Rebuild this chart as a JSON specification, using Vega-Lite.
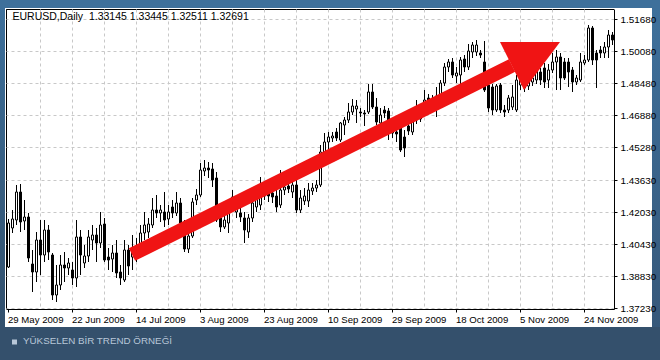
{
  "$schema": "https://vega.github.io/schema/vega-lite/v6.json",
  "width": 608,
  "height": 300,
  "autosize": "none",
  "padding": {"left": 6, "top": 9, "right": 46, "bottom": 51},
  "background": "#34506c",
  "config": {"view": {"fill": "#ffffff", "stroke": "#000000", "strokeWidth": 1}, "font": "Liberation Sans"},
  "datasets": {
    "ohlc": [
      {"d":"2009-05-29","o":1.3928,"h":1.4168,"l":1.3923,"c":1.4148},
      {"d":"2009-06-01","o":1.4123,"h":1.4213,"l":1.4098,"c":1.4168},
      {"d":"2009-06-02","o":1.4163,"h":1.4338,"l":1.4138,"c":1.4303},
      {"d":"2009-06-03","o":1.4303,"h":1.4343,"l":1.4103,"c":1.4153},
      {"d":"2009-06-04","o":1.4158,"h":1.4263,"l":1.4113,"c":1.4178},
      {"d":"2009-06-05","o":1.4178,"h":1.4198,"l":1.3953,"c":1.3973},
      {"d":"2009-06-08","o":1.3943,"h":1.4013,"l":1.3803,"c":1.3903},
      {"d":"2009-06-09","o":1.3903,"h":1.4103,"l":1.3853,"c":1.4063},
      {"d":"2009-06-10","o":1.4063,"h":1.4163,"l":1.3888,"c":1.3988},
      {"d":"2009-06-11","o":1.3988,"h":1.4163,"l":1.3953,"c":1.4113},
      {"d":"2009-06-12","o":1.4113,"h":1.4138,"l":1.3963,"c":1.4003},
      {"d":"2009-06-15","o":1.3988,"h":1.3998,"l":1.3763,"c":1.3788},
      {"d":"2009-06-16","o":1.3788,"h":1.3938,"l":1.3753,"c":1.3838},
      {"d":"2009-06-17","o":1.3838,"h":1.3988,"l":1.3813,"c":1.3938},
      {"d":"2009-06-18","o":1.3938,"h":1.4003,"l":1.3853,"c":1.3923},
      {"d":"2009-06-19","o":1.3923,"h":1.3973,"l":1.3888,"c":1.3948},
      {"d":"2009-06-22","o":1.3913,"h":1.3953,"l":1.3838,"c":1.3873},
      {"d":"2009-06-23","o":1.3873,"h":1.4163,"l":1.3828,"c":1.4078},
      {"d":"2009-06-24","o":1.4078,"h":1.4113,"l":1.3888,"c":1.3988},
      {"d":"2009-06-25","o":1.3948,"h":1.4038,"l":1.3923,"c":1.3983},
      {"d":"2009-06-26","o":1.3983,"h":1.4113,"l":1.3953,"c":1.4078},
      {"d":"2009-06-29","o":1.4063,"h":1.4138,"l":1.4013,"c":1.4088},
      {"d":"2009-06-30","o":1.4088,"h":1.4123,"l":1.3953,"c":1.4048},
      {"d":"2009-07-01","o":1.4048,"h":1.4203,"l":1.4023,"c":1.4138},
      {"d":"2009-07-02","o":1.4143,"h":1.4173,"l":1.3953,"c":1.3963},
      {"d":"2009-07-03","o":1.3978,"h":1.4023,"l":1.3913,"c":1.3963},
      {"d":"2009-07-06","o":1.3968,"h":1.4038,"l":1.3903,"c":1.3998},
      {"d":"2009-07-07","o":1.3998,"h":1.4063,"l":1.3873,"c":1.3898},
      {"d":"2009-07-08","o":1.3903,"h":1.3938,"l":1.3838,"c":1.3873},
      {"d":"2009-07-09","o":1.3863,"h":1.4063,"l":1.3853,"c":1.4013},
      {"d":"2009-07-10","o":1.4013,"h":1.4038,"l":1.3888,"c":1.3933},
      {"d":"2009-07-13","o":1.3978,"h":1.4088,"l":1.3913,"c":1.4003},
      {"d":"2009-07-14","o":1.4003,"h":1.4073,"l":1.3953,"c":1.4033},
      {"d":"2009-07-15","o":1.4023,"h":1.4138,"l":1.3973,"c":1.4098},
      {"d":"2009-07-16","o":1.4098,"h":1.4203,"l":1.4063,"c":1.4138},
      {"d":"2009-07-17","o":1.4103,"h":1.4173,"l":1.4073,"c":1.4143},
      {"d":"2009-07-20","o":1.4138,"h":1.4273,"l":1.4123,"c":1.4213},
      {"d":"2009-07-21","o":1.4213,"h":1.4288,"l":1.4173,"c":1.4198},
      {"d":"2009-07-22","o":1.4198,"h":1.4238,"l":1.4153,"c":1.4213},
      {"d":"2009-07-23","o":1.4203,"h":1.4303,"l":1.4128,"c":1.4163},
      {"d":"2009-07-24","o":1.4168,"h":1.4238,"l":1.4138,"c":1.4203},
      {"d":"2009-07-26","o":1.4228,"h":1.4263,"l":1.4173,"c":1.4198},
      {"d":"2009-07-27","o":1.4198,"h":1.4303,"l":1.4183,"c":1.4248},
      {"d":"2009-07-28","o":1.4248,"h":1.4273,"l":1.4133,"c":1.4148},
      {"d":"2009-07-29","o":1.4148,"h":1.4163,"l":1.4003,"c":1.4018},
      {"d":"2009-07-30","o":1.4018,"h":1.4113,"l":1.3998,"c":1.4083},
      {"d":"2009-07-31","o":1.4083,"h":1.4273,"l":1.4073,"c":1.4253},
      {"d":"2009-08-02","o":1.4263,"h":1.4318,"l":1.4238,"c":1.4288},
      {"d":"2009-08-03","o":1.4288,"h":1.4448,"l":1.4278,"c":1.4413},
      {"d":"2009-08-04","o":1.4408,"h":1.4463,"l":1.4383,"c":1.4423},
      {"d":"2009-08-05","o":1.4423,"h":1.4453,"l":1.4373,"c":1.4413},
      {"d":"2009-08-06","o":1.4418,"h":1.4448,"l":1.4328,"c":1.4363},
      {"d":"2009-08-07","o":1.4373,"h":1.4403,"l":1.4153,"c":1.4163},
      {"d":"2009-08-10","o":1.4173,"h":1.4203,"l":1.4103,"c":1.4128},
      {"d":"2009-08-11","o":1.4128,"h":1.4193,"l":1.4118,"c":1.4163},
      {"d":"2009-08-12","o":1.4148,"h":1.4263,"l":1.4098,"c":1.4238},
      {"d":"2009-08-13","o":1.4253,"h":1.4313,"l":1.4213,"c":1.4278},
      {"d":"2009-08-14","o":1.4203,"h":1.4273,"l":1.4173,"c":1.4238},
      {"d":"2009-08-16","o":1.4198,"h":1.4233,"l":1.4153,"c":1.4178},
      {"d":"2009-08-17","o":1.4173,"h":1.4203,"l":1.4048,"c":1.4113},
      {"d":"2009-08-18","o":1.4103,"h":1.4193,"l":1.4073,"c":1.4173},
      {"d":"2009-08-19","o":1.4173,"h":1.4273,"l":1.4153,"c":1.4248},
      {"d":"2009-08-20","o":1.4228,"h":1.4323,"l":1.4203,"c":1.4273},
      {"d":"2009-08-21","o":1.4238,"h":1.4378,"l":1.4213,"c":1.4298},
      {"d":"2009-08-23","o":1.4313,"h":1.4353,"l":1.4263,"c":1.4283},
      {"d":"2009-08-24","o":1.4303,"h":1.4338,"l":1.4253,"c":1.4283},
      {"d":"2009-08-25","o":1.4298,"h":1.4333,"l":1.4248,"c":1.4278},
      {"d":"2009-08-26","o":1.4283,"h":1.4313,"l":1.4203,"c":1.4228},
      {"d":"2009-08-27","o":1.4238,"h":1.4413,"l":1.4223,"c":1.4313},
      {"d":"2009-08-28","o":1.4313,"h":1.4363,"l":1.4288,"c":1.4328},
      {"d":"2009-08-30","o":1.4333,"h":1.4363,"l":1.4298,"c":1.4318},
      {"d":"2009-08-31","o":1.4303,"h":1.4373,"l":1.4273,"c":1.4338},
      {"d":"2009-09-01","o":1.4338,"h":1.4363,"l":1.4198,"c":1.4213},
      {"d":"2009-09-02","o":1.4213,"h":1.4313,"l":1.4198,"c":1.4273},
      {"d":"2009-09-03","o":1.4258,"h":1.4323,"l":1.4238,"c":1.4283},
      {"d":"2009-09-04","o":1.4258,"h":1.4348,"l":1.4228,"c":1.4313},
      {"d":"2009-09-06","o":1.4308,"h":1.4348,"l":1.4288,"c":1.4323},
      {"d":"2009-09-07","o":1.4323,"h":1.4363,"l":1.4303,"c":1.4338},
      {"d":"2009-09-08","o":1.4338,"h":1.4538,"l":1.4328,"c":1.4503},
      {"d":"2009-09-09","o":1.4498,"h":1.4598,"l":1.4478,"c":1.4553},
      {"d":"2009-09-10","o":1.4553,"h":1.4603,"l":1.4498,"c":1.4578},
      {"d":"2009-09-11","o":1.4573,"h":1.4603,"l":1.4553,"c":1.4583},
      {"d":"2009-09-13","o":1.4603,"h":1.4623,"l":1.4558,"c":1.4573},
      {"d":"2009-09-14","o":1.4563,"h":1.4653,"l":1.4553,"c":1.4648},
      {"d":"2009-09-15","o":1.4638,"h":1.4678,"l":1.4588,"c":1.4663},
      {"d":"2009-09-16","o":1.4663,"h":1.4748,"l":1.4648,"c":1.4703},
      {"d":"2009-09-17","o":1.4703,"h":1.4768,"l":1.4688,"c":1.4733},
      {"d":"2009-09-18","o":1.4718,"h":1.4763,"l":1.4648,"c":1.4733},
      {"d":"2009-09-20","o":1.4703,"h":1.4723,"l":1.4678,"c":1.4698},
      {"d":"2009-09-21","o":1.4698,"h":1.4713,"l":1.4633,"c":1.4693},
      {"d":"2009-09-22","o":1.4703,"h":1.4843,"l":1.4693,"c":1.4803},
      {"d":"2009-09-23","o":1.4803,"h":1.4843,"l":1.4718,"c":1.4728},
      {"d":"2009-09-24","o":1.4728,"h":1.4773,"l":1.4638,"c":1.4653},
      {"d":"2009-09-25","o":1.4648,"h":1.4723,"l":1.4628,"c":1.4688},
      {"d":"2009-09-27","o":1.4713,"h":1.4733,"l":1.4673,"c":1.4698},
      {"d":"2009-09-28","o":1.4708,"h":1.4723,"l":1.4563,"c":1.4623},
      {"d":"2009-09-29","o":1.4598,"h":1.4653,"l":1.4573,"c":1.4623},
      {"d":"2009-09-30","o":1.4603,"h":1.4638,"l":1.4553,"c":1.4593},
      {"d":"2009-10-01","o":1.4623,"h":1.4628,"l":1.4503,"c":1.4513},
      {"d":"2009-10-02","o":1.4578,"h":1.4613,"l":1.4478,"c":1.4523},
      {"d":"2009-10-04","o":1.4633,"h":1.4663,"l":1.4588,"c":1.4608},
      {"d":"2009-10-05","o":1.4603,"h":1.4683,"l":1.4588,"c":1.4663},
      {"d":"2009-10-06","o":1.4663,"h":1.4763,"l":1.4643,"c":1.4678},
      {"d":"2009-10-07","o":1.4668,"h":1.4723,"l":1.4653,"c":1.4683},
      {"d":"2009-10-08","o":1.4703,"h":1.4813,"l":1.4688,"c":1.4763},
      {"d":"2009-10-09","o":1.4773,"h":1.4793,"l":1.4698,"c":1.4713},
      {"d":"2009-10-11","o":1.4748,"h":1.4788,"l":1.4723,"c":1.4768},
      {"d":"2009-10-12","o":1.4763,"h":1.4828,"l":1.4678,"c":1.4783},
      {"d":"2009-10-13","o":1.4783,"h":1.4863,"l":1.4768,"c":1.4848},
      {"d":"2009-10-14","o":1.4848,"h":1.4948,"l":1.4833,"c":1.4928},
      {"d":"2009-10-15","o":1.4928,"h":1.4968,"l":1.4903,"c":1.4953},
      {"d":"2009-10-16","o":1.4953,"h":1.4973,"l":1.4873,"c":1.4888},
      {"d":"2009-10-18","o":1.4883,"h":1.4928,"l":1.4848,"c":1.4898},
      {"d":"2009-10-19","o":1.4888,"h":1.4978,"l":1.4838,"c":1.4963},
      {"d":"2009-10-20","o":1.4968,"h":1.4988,"l":1.4903,"c":1.4928},
      {"d":"2009-10-21","o":1.4928,"h":1.5043,"l":1.4913,"c":1.5008},
      {"d":"2009-10-22","o":1.5003,"h":1.5053,"l":1.4973,"c":1.5038},
      {"d":"2009-10-23","o":1.5003,"h":1.5063,"l":1.4983,"c":1.5038},
      {"d":"2009-10-25","o":1.4998,"h":1.5013,"l":1.4973,"c":1.4988},
      {"d":"2009-10-26","o":1.4953,"h":1.5058,"l":1.4803,"c":1.4813},
      {"d":"2009-10-27","o":1.4838,"h":1.4853,"l":1.4703,"c":1.4723},
      {"d":"2009-10-28","o":1.4828,"h":1.4843,"l":1.4688,"c":1.4713},
      {"d":"2009-10-29","o":1.4713,"h":1.4843,"l":1.4703,"c":1.4833},
      {"d":"2009-10-30","o":1.4838,"h":1.4848,"l":1.4698,"c":1.4713},
      {"d":"2009-11-01","o":1.4713,"h":1.4738,"l":1.4678,"c":1.4703},
      {"d":"2009-11-02","o":1.4713,"h":1.4788,"l":1.4698,"c":1.4773},
      {"d":"2009-11-03","o":1.4728,"h":1.4838,"l":1.4713,"c":1.4778},
      {"d":"2009-11-04","o":1.4713,"h":1.4888,"l":1.4703,"c":1.4863},
      {"d":"2009-11-05","o":1.4838,"h":1.4903,"l":1.4813,"c":1.4873},
      {"d":"2009-11-06","o":1.4873,"h":1.4893,"l":1.4803,"c":1.4823},
      {"d":"2009-11-08","o":1.4833,"h":1.4883,"l":1.4813,"c":1.4863},
      {"d":"2009-11-09","o":1.4853,"h":1.4888,"l":1.4833,"c":1.4873},
      {"d":"2009-11-10","o":1.4863,"h":1.4938,"l":1.4843,"c":1.4913},
      {"d":"2009-11-11","o":1.4903,"h":1.4923,"l":1.4838,"c":1.4863},
      {"d":"2009-11-12","o":1.4923,"h":1.4948,"l":1.4823,"c":1.4853},
      {"d":"2009-11-13","o":1.4863,"h":1.4943,"l":1.4823,"c":1.4913},
      {"d":"2009-11-15","o":1.4913,"h":1.4998,"l":1.4898,"c":1.4953},
      {"d":"2009-11-16","o":1.4953,"h":1.5013,"l":1.4813,"c":1.4978},
      {"d":"2009-11-17","o":1.4978,"h":1.4998,"l":1.4813,"c":1.4873},
      {"d":"2009-11-18","o":1.4953,"h":1.4973,"l":1.4863,"c":1.4873},
      {"d":"2009-11-19","o":1.4953,"h":1.4973,"l":1.4828,"c":1.4903},
      {"d":"2009-11-20","o":1.4913,"h":1.4928,"l":1.4803,"c":1.4853},
      {"d":"2009-11-22","o":1.4853,"h":1.4888,"l":1.4838,"c":1.4873},
      {"d":"2009-11-23","o":1.4863,"h":1.4998,"l":1.4853,"c":1.4953},
      {"d":"2009-11-24","o":1.4948,"h":1.4988,"l":1.4938,"c":1.4963},
      {"d":"2009-11-25","o":1.4963,"h":1.5138,"l":1.4953,"c":1.5123},
      {"d":"2009-11-26","o":1.5123,"h":1.5133,"l":1.4938,"c":1.4963},
      {"d":"2009-11-27","o":1.4998,"h":1.5013,"l":1.4823,"c":1.4963},
      {"d":"2009-11-29","o":1.5013,"h":1.5033,"l":1.4973,"c":1.4998},
      {"d":"2009-11-30","o":1.4998,"h":1.5053,"l":1.4973,"c":1.5028},
      {"d":"2009-12-01","o":1.5028,"h":1.5113,"l":1.4973,"c":1.5088},
      {"d":"2009-12-02","o":1.5088,"h":1.5103,"l":1.5038,"c":1.5063}
    ],
    "arrow": [
      {"d":"2009-07-13","p":1.399},
      {"d":"2009-11-03","p":1.4935}
    ],
    "head": [
      {"d":"2009-10-30","p":1.5053,"p2":1.5053},
      {"d":"2009-11-06","p":1.5053,"p2":1.4813},
      {"d":"2009-11-17","p":1.5053,"p2":1.5053}
    ]
  },
  "layer": [
    {
      "data": {"values": [{}]},
      "layer": [
        {
          "mark": {"type": "rect", "fill": "#3e709b"},
          "encoding": {
            "x": {"datum": -0.009868, "type": "quantitative", "scale": {"domain": [0, 1], "nice": false, "zero": false}, "axis": null},
            "x2": {"datum": 1.075658},
            "y": {"datum": 1.03, "type": "quantitative", "scale": {"domain": [0, 1], "nice": false, "zero": false}, "axis": null},
            "y2": {"datum": 1.003333}
          }
        },
        {
          "mark": {"type": "rect", "fill": {"gradient": "linear", "x1": 0, "y1": 0, "x2": 0, "y2": 1, "stops": [{"offset": 0, "color": "#3e709b"}, {"offset": 1, "color": "#33506c"}]}},
          "encoding": {
            "x": {"datum": -0.009868, "type": "quantitative"},
            "x2": {"datum": -0.001645},
            "y": {"datum": 1.003333, "type": "quantitative"},
            "y2": {"datum": -0.06}
          }
        },
        {
          "mark": {"type": "rect", "fill": {"gradient": "linear", "x1": 0, "y1": 0, "x2": 0, "y2": 1, "stops": [{"offset": 0, "color": "#3e709b"}, {"offset": 1, "color": "#36587a"}]}},
          "encoding": {
            "x": {"datum": 1.0625, "type": "quantitative"},
            "x2": {"datum": 1.075658},
            "y": {"datum": 1.003333, "type": "quantitative"},
            "y2": {"datum": -0.06}
          }
        },
        {
          "mark": {"type": "rect", "fill": "#ffffff"},
          "encoding": {
            "x": {"datum": 1.0, "type": "quantitative"},
            "x2": {"datum": 1.0625},
            "y": {"datum": 1.003333, "type": "quantitative"},
            "y2": {"datum": -0.06}
          }
        },
        {
          "mark": {"type": "rect", "fill": "#ffffff"},
          "encoding": {
            "x": {"datum": -0.001645, "type": "quantitative"},
            "x2": {"datum": 1.0},
            "y": {"datum": 0, "type": "quantitative"},
            "y2": {"datum": -0.06}
          }
        },
        {
          "mark": {"type": "rect", "fill": "#ffffff"},
          "encoding": {
            "x": {"datum": -0.001645, "type": "quantitative"},
            "x2": {"datum": 1.0625},
            "y": {"datum": 1.003333, "type": "quantitative"},
            "y2": {"datum": 1.0}
          }
        },
        {
          "mark": {"type": "rect", "fill": "#ffffff"},
          "encoding": {
            "x": {"datum": -0.001645, "type": "quantitative"},
            "x2": {"datum": 0},
            "y": {"datum": 1.003333, "type": "quantitative"},
            "y2": {"datum": -0.06}
          }
        },
        {
          "mark": {"type": "text", "text": "EURUSD,Daily\u00a0 1.33145 1.33445 1.32511 1.32691", "align": "left", "baseline": "middle", "fontSize": 10.5, "font": "Liberation Sans", "fill": "#000000"},
          "encoding": {
            "x": {"datum": 0.01069, "type": "quantitative"},
            "y": {"datum": 0.9723, "type": "quantitative"}
          }
        },
        {
          "mark": {"type": "rect", "fill": "#b8c7d8"},
          "encoding": {
            "x": {"datum": 0.00987, "type": "quantitative"},
            "x2": {"datum": 0.01809},
            "y": {"datum": -0.10167, "type": "quantitative"},
            "y2": {"datum": -0.11833}
          }
        },
        {
          "mark": {"type": "text", "text": "YÜKSELEN BİR TREND ÖRNEĞİ", "align": "left", "baseline": "middle", "fontSize": 9.8, "font": "Liberation Sans", "fill": "#b8c7d8"},
          "encoding": {
            "x": {"datum": 0.02796, "type": "quantitative"},
            "y": {"datum": -0.108, "type": "quantitative"}
          }
        }
      ]
    },
    {
      "data": {"name": "ohlc"},
      "layer": [
        {
          "mark": {"type": "rule", "color": "#000000", "strokeWidth": 1, "xOffset": 0.5},
          "encoding": {
            "x": {
              "field": "d", "type": "ordinal",
              "scale": {"type": "band", "paddingInner": 0, "paddingOuter": 0},
              "axis": {
                "orient": "bottom", "values": ["2009-06-10","2009-06-22","2009-07-02","2009-07-14","2009-07-24","2009-08-03","2009-08-13","2009-08-23","2009-09-01","2009-09-10","2009-09-20","2009-09-29","2009-10-08","2009-10-18","2009-10-27","2009-11-05","2009-11-15","2009-11-24"],
                "grid": true, "gridColor": "#c8c8c8", "gridDash": [3, 3], "gridWidth": 1,
                "labels": false, "ticks": false, "domain": false, "title": null, "zindex": 0, "bandPosition": 0.5
              }
            },
            "y": {
              "field": "l", "type": "quantitative",
              "scale": {"domain": [1.3718, 1.5218], "nice": false, "zero": false},
              "axis": {
                "orient": "right", "values": [1.3723, 1.3883, 1.4043, 1.4203, 1.4363, 1.4528, 1.4688, 1.4848, 1.5008, 1.5168],
                "grid": true, "gridColor": "#c8c8c8", "gridDash": [3, 3], "gridWidth": 1,
                "labels": false, "ticks": false, "domain": false, "title": null, "zindex": 0
              }
            },
            "y2": {"field": "h"}
          }
        },
        {
          "mark": {"type": "bar", "size": 2, "xOffset": 0.5, "stroke": "#000000", "strokeWidth": 1},
          "encoding": {
            "x": {
              "field": "d", "type": "ordinal",
              "axis": {
                "orient": "bottom", "values": ["2009-05-29","2009-06-22","2009-07-14","2009-08-03","2009-08-23","2009-09-10","2009-09-29","2009-10-18","2009-11-05","2009-11-24"],
                "labelExpr": "utcFormat(toDate(datum.value), '%-d %b %Y')",
                "labelAlign": "left", "labelAngle": 0, "labelFont": "Liberation Sans", "labelFontSize": 9.6, "labelColor": "#000000",
                "labelPadding": 2, "labelOverlap": false, "tickColor": "#000000", "tickSize": 3, "domainColor": "#000000",
                "grid": false, "title": null, "zindex": 1, "bandPosition": 0.5
              }
            },
            "y": {
              "field": "o", "type": "quantitative",
              "axis": {
                "orient": "right", "values": [1.3723, 1.3883, 1.4043, 1.4203, 1.4363, 1.4528, 1.4688, 1.4848, 1.5008, 1.5168],
                "format": ".5f", "labelFont": "Liberation Sans", "labelFontSize": 9.9, "labelColor": "#000000", "labelPadding": 3,
                "tickColor": "#000000", "tickSize": 3, "domainColor": "#000000", "grid": false, "title": null, "zindex": 1
              }
            },
            "y2": {"field": "c"},
            "color": {"condition": {"test": "datum.c > datum.o", "value": "#ffffff"}, "value": "#000000"}
          }
        },
        {
          "data": {"name": "arrow"},
          "mark": {"type": "line", "color": "#f01414", "strokeWidth": 14, "strokeCap": "butt"},
          "encoding": {
            "x": {"field": "d", "type": "ordinal", "axis": null},
            "y": {"field": "p", "type": "quantitative", "axis": null}
          }
        },
        {
          "data": {"name": "head"},
          "mark": {"type": "area", "color": "#f01414"},
          "encoding": {
            "x": {"field": "d", "type": "ordinal", "axis": null},
            "y": {"field": "p", "type": "quantitative", "axis": null},
            "y2": {"field": "p2"}
          }
        }
      ],
      "resolve": {"axis": {"x": "independent", "y": "independent"}}
    }
  ],
  "resolve": {"scale": {"x": "independent", "y": "independent"}}
}
